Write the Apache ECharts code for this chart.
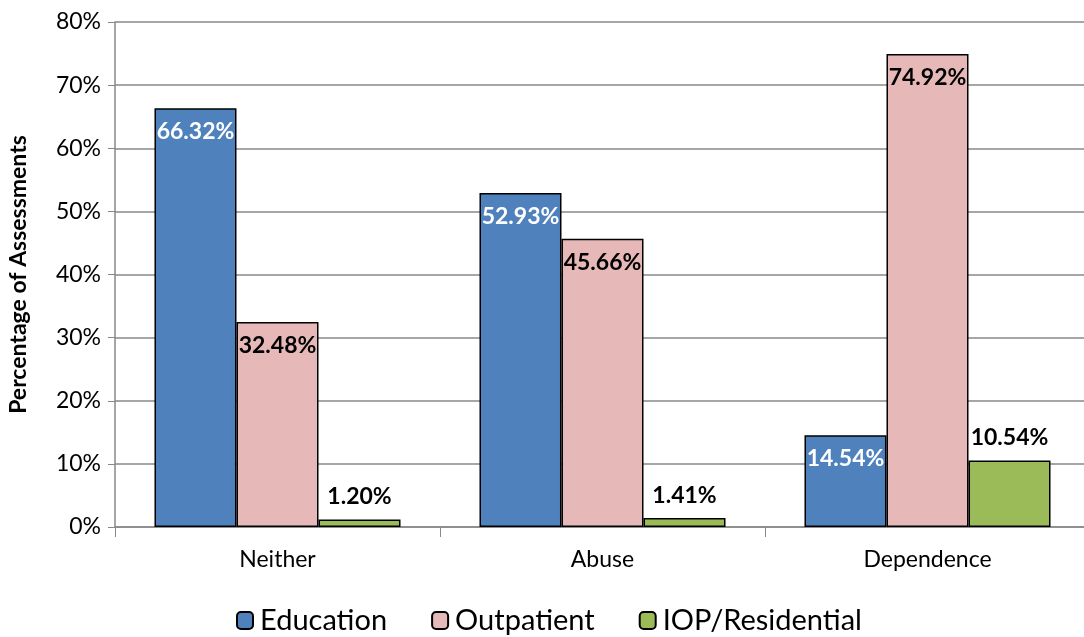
<!DOCTYPE html>
<html>
<head>
<meta charset="utf-8">
<script src="https://cdn.jsdelivr.net/npm/echarts@6/dist/echarts.min.js"></script>
<style>
  html, body { margin: 0; padding: 0; background: #fff; }
  #chart { width: 1084px; height: 637px; }
</style>
</head>
<body>
<div id="chart"></div>
<script>
// categories and series values (percent)
var categories = ['Neither', 'Abuse', 'Dependence'];
var education = [66.32, 52.93, 14.54];
var outpatient = [32.48, 45.66, 74.92];
var iopResidential = [1.20, 1.41, 10.54];
var yTicks = [0, 10, 20, 30, 40, 50, 60, 70, 80];

var FONT = 'Lato, "Open Sans", sans-serif';

var chart = echarts.init(document.getElementById('chart'));

function pctLabel(params) {
	return params.value.toFixed(2) + '%';
}

var option = {
	animation: false,
	// plot area runs slightly past the right edge, as in the original
	grid: { left: 115, right: -6, top: 22, bottom: 110, containLabel: false, outerBoundsMode: 'none' },
	legend: {
		bottom: -3,
		left: 231,
		itemWidth: 16,
		itemHeight: 17,
		itemGap: 44,
		textStyle: { fontFamily: FONT, fontSize: 29, color: '#000', padding: [0, 0, 0, 2] },
		data: ['Education', 'Outpatient', 'IOP/Residential']
	},
	xAxis: {
		type: 'category',
		data: categories,
		axisLine: { lineStyle: { color: '#888', width: 1.5 } },
		axisTick: { show: true, length: 10, lineStyle: { color: '#888' } },
		axisLabel: { fontFamily: FONT, fontSize: 23, color: '#000', margin: 21 }
	},
	yAxis: {
		type: 'value',
		min: yTicks[0],
		max: yTicks[yTicks.length - 1],
		interval: 10,
		name: 'Percentage of Assessments',
		nameLocation: 'middle',
		nameGap: 85,
		nameTextStyle: { fontFamily: FONT, fontSize: 23, fontWeight: 'bold', color: '#000' },
		axisLine: { show: true, lineStyle: { color: '#888', width: 1.5 } },
		axisTick: { show: true, length: 7, lineStyle: { color: '#888' } },
		splitLine: { lineStyle: { color: '#888', width: 1.5 } },
		axisLabel: { fontFamily: FONT, fontSize: 23, color: '#000', margin: 14, formatter: '{value}%' }
	},
	series: [
		{
			name: 'Education',
			type: 'bar',
			data: education,
			barGap: '0%',
			barCategoryGap: '24.3%',
			itemStyle: { color: '#4F81BD', borderColor: '#000', borderWidth: 1.5 },
			label: { show: true, position: 'insideTop', distance: 12, color: '#fff',
				fontFamily: FONT, fontWeight: 'bold', fontSize: 23, formatter: pctLabel }
		},
		{
			name: 'Outpatient',
			type: 'bar',
			data: outpatient,
			barGap: '0%',
			barCategoryGap: '24.3%',
			itemStyle: { color: '#E6B9B8', borderColor: '#000', borderWidth: 1.5 },
			label: { show: true, position: 'insideTop', distance: 12, color: '#000',
				fontFamily: FONT, fontWeight: 'bold', fontSize: 23, formatter: pctLabel }
		},
		{
			name: 'IOP/Residential',
			type: 'bar',
			data: iopResidential,
			barGap: '0%',
			barCategoryGap: '24.3%',
			itemStyle: { color: '#9BBB59', borderColor: '#000', borderWidth: 1.5 },
			label: { show: true, position: 'top', distance: 11, color: '#000',
				fontFamily: FONT, fontWeight: 'bold', fontSize: 23, formatter: pctLabel }
		}
	]
};

chart.setOption(option);
</script>
</body>
</html>
